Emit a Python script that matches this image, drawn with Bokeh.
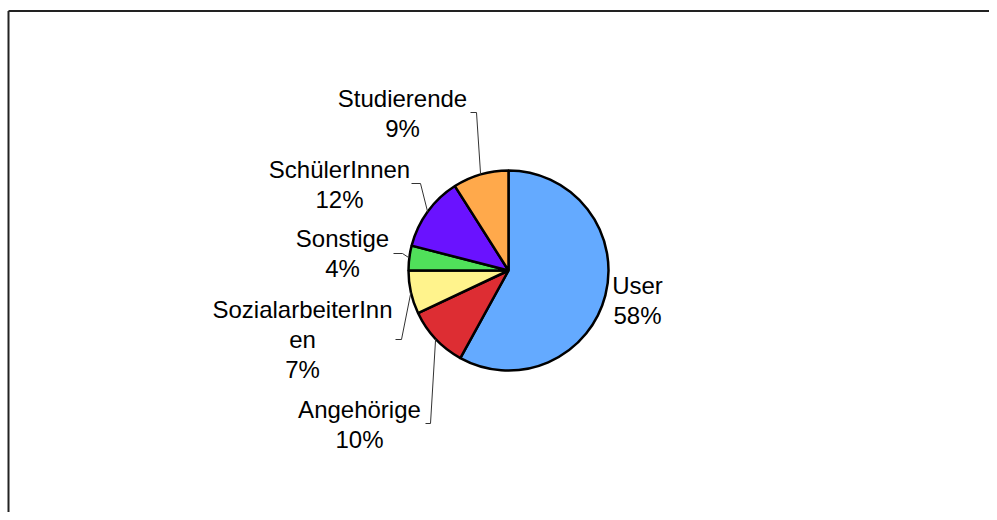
import math
from bokeh.plotting import figure
from bokeh.models import Range1d
from bokeh.core.properties import value
from bokeh.embed import file_html
from bokeh.resources import INLINE

# ---- data ----
categories = ["User", "Angehörige", "SozialarbeiterInnen", "Sonstige", "SchülerInnen", "Studierende"]
shares = [58, 10, 7, 4, 12, 9]
label_lines = [["User", "58%"], ["Angehörige", "10%"], ["SozialarbeiterInn", "en", "7%"],
               ["Sonstige", "4%"], ["SchülerInnen", "12%"], ["Studierende", "9%"]]
colors = ["#64AAFF", "#DD2D33", "#FFF38C", "#50E05A", "#6A12FF", "#FFA94B"]

# ---- layout (screen pixel coordinates) ----
W, H = 989, 512
CX, CY, R = 508, 270, 100
label_pos = [(637, 285), (359, 409), (302, 309), (342, 238), (339, 169), (402, 98)]
label_align = ["center"] * 6
leader_tick = [None, (425, 430, 423), (395, 401, 339), (393, 402, 253), (411, 420, 183), (470, 476, 112)]
LINE_H = 30


def px(x):
    return x


def py(y):
    return H - y


p = figure(width=W, height=H, output_backend="svg", toolbar_location=None,
           x_range=Range1d(0, W), y_range=Range1d(0, H), min_border=0)
p.axis.visible = False
p.grid.visible = False
p.outline_line_color = None

# frame border (left and top visible)
p.line([px(8), px(8)], [py(10.5), py(530)], line_color="#222222", line_width=2)
p.line([px(8), px(1005)], [py(10.5), py(10.5)], line_color="#222222", line_width=2)

total = float(sum(shares))
cum = 0.0
starts, ends, mids = [], [], []
for s in shares:
    a0 = math.pi / 2 - 2 * math.pi * cum / total
    a1 = math.pi / 2 - 2 * math.pi * (cum + s) / total
    starts.append(a0)
    ends.append(a1)
    mids.append((a0 + a1) / 2)
    cum += s

p.wedge(x=px(CX), y=py(CY), radius=R, start_angle=starts, end_angle=ends,
        direction="clock", fill_color=colors, line_color="black", line_width=2.5)

for i, lines in enumerate(label_lines):
    lx, ly = label_pos[i]
    for j, t in enumerate(lines):
        p.text(x=[px(lx)], y=[py(ly + j * LINE_H)], text=[t], text_align=label_align[i],
               text_baseline="alphabetic", text_font=value("Liberation Sans"),
               text_font_size="24px", text_color="black")
    tick = leader_tick[i]
    if tick is not None:
        ex = CX + R * math.cos(mids[i])
        ey = CY - R * math.sin(mids[i])
        p.line([px(tick[0]), px(tick[1]), px(ex)], [py(tick[2]), py(tick[2]), py(ey)],
               line_color="#333333", line_width=1)

open("out.html", "w").write(file_html(p, INLINE))
